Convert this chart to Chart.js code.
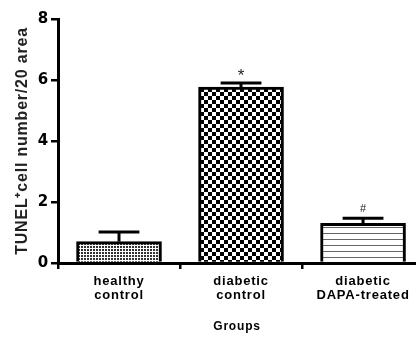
<!DOCTYPE html>
<html><head><meta charset="utf-8">
<script src="https://cdn.jsdelivr.net/npm/chart.js@4"></script>
<style>html,body{margin:0;padding:0;background:#fff}canvas{display:block}</style>
</head><body>
<canvas id="c" width="416" height="338"></canvas>
<script>
const categories = [['healthy','control'], ['diabetic','control'], ['diabetic','DAPA-treated']];
const values = [0.70, 5.77, 1.30];
const errors = [0.32, 0.13, 0.17];
const marks = ['', '*', '#'];
const yTicks = [0, 2, 4, 6, 8];

function pat(kind){
  const c = document.createElement('canvas');
  const g = c.getContext('2d');
  if(kind==='fine'){
    c.width=3;c.height=3;
    g.fillStyle='#fff';g.fillRect(0,0,3,3);
    g.fillStyle='#333';g.fillRect(0,0,2,2);
  } else if(kind==='checker'){
    c.width=8;c.height=8;
    g.fillStyle='#fff';g.fillRect(0,0,8,8);
    g.fillStyle='#000';g.fillRect(0,0,4,4);g.fillRect(4,4,4,4);
  } else {
    c.width=6;c.height=6;
    g.fillStyle='#fff';g.fillRect(0,0,6,6);
    g.fillStyle='#666';g.fillRect(0,5,6,1);
  }
  return g.createPattern(c,'repeat');
}

const spacing = { id:'spacing', beforeDraw(chart){ chart.ctx.letterSpacing='0.8px'; } };

const errPlugin = {
  id:'errs',
  afterDatasetsDraw(chart){
    const ctx = chart.ctx, ys = chart.scales.y;
    const meta = chart.getDatasetMeta(0);
    ctx.save();
    ctx.letterSpacing='0px';
    ctx.strokeStyle='#000';ctx.lineWidth=3;ctx.lineCap='butt';
    meta.data.forEach((el,i)=>{
      const x = el.x, top = ys.getPixelForValue(values[i]+errors[i]);
      const half = el.width*0.24;
      ctx.beginPath();ctx.moveTo(x, el.y);ctx.lineTo(x, top);ctx.stroke();
      ctx.beginPath();ctx.moveTo(x-half, top);ctx.lineTo(x+half, top);ctx.stroke();
      if(marks[i]){
        const big = marks[i]==='*';
        ctx.fillStyle='#222';
        ctx.font=(big?'17px':'11px')+' "Liberation Sans", Arial';
        ctx.textAlign='center';ctx.textBaseline='middle';
        ctx.fillText(marks[i], x, top-(big?7:9));
      }
    });
    ctx.restore();
  }
};

new Chart(document.getElementById('c'), {
  type:'bar',
  data:{
    datasets:[{
      data: values.map((v,i)=>({x:i,y:v})),
      backgroundColor:[pat('fine'),pat('checker'),pat('lines')],
      borderColor:'#000', borderWidth:3, borderSkipped:'bottom',
      barThickness:85
    }]
  },
  options:{
    responsive:false, devicePixelRatio:1, animation:false,
    layout:{padding:{top:19,right:0,left:0,bottom:0}},
    plugins:{legend:{display:false},tooltip:{enabled:false}},
    scales:{
      x:{
        type:'linear', min:-0.5, max:2.434, offset:false,
        afterBuildTicks(s){ s.ticks = categories.map((c,i)=>({value:i})); },
        afterFit(s){ s.height = 75; },
        ticks:{ autoSkip:false, maxRotation:0, color:'#000', padding:5,
          font:{family:'"Liberation Sans", Arial', size:13, weight:'bold', lineHeight:1.1},
          callback:(v)=>categories[v] },
        grid:{ drawOnChartArea:false, tickLength:6, color:'#000', lineWidth:2.5 },
        border:{ color:'#000', width:3 },
        title:{ display:true, text:'Groups', color:'#000',
          font:{family:'"Liberation Sans", Arial', size:12, weight:'bold'}, padding:{top:14} }
      },
      y:{
        min:0, max:8,
        afterBuildTicks(s){ s.ticks = yTicks.map(v=>({value:v})); },
        afterFit(s){ s.width = 58; },
        ticks:{ color:'#000', padding:2,
          font:{family:'"DejaVu Sans", "Liberation Sans", Arial', size:15, weight:'bold'} },
        grid:{ drawOnChartArea:false, tickLength:7, color:'#000', lineWidth:2.5 },
        border:{ color:'#000', width:3 },
        title:{ display:true, text:'TUNEL\u207Acell number/20 area', color:'#222',
          font:{family:'"Liberation Sans", Arial', size:16, weight:'bold'}, padding:{top:13, bottom:0} }
      }
    }
  },
  plugins:[spacing, errPlugin]
});
</script>
</body></html>
